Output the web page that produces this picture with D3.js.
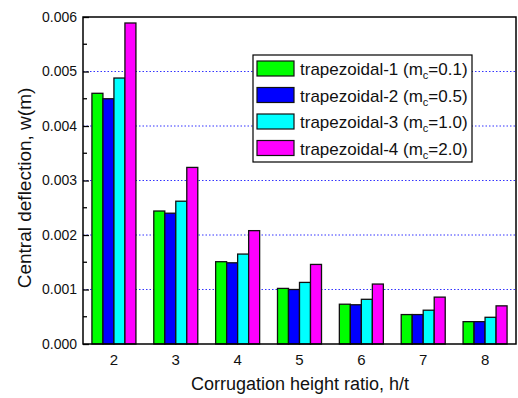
<!DOCTYPE html>
<html>
<head>
<meta charset="utf-8">
<script src="https://cdn.jsdelivr.net/npm/d3@7"></script>
<style>
  body { margin: 0; background: #fff; }
  svg { display: block; font-family: "Liberation Sans", Arial, sans-serif; }
</style>
</head>
<body>
<svg id="chart" width="518" height="398"></svg>
<script>
// h/t categories
var categories = ["2", "3", "4", "5", "6", "7", "8"];
var seriesNames = ["trapezoidal-1", "trapezoidal-2", "trapezoidal-3", "trapezoidal-4"];
var mcValues = ["0.1", "0.5", "1.0", "2.0"];
var seriesColors = ["#00ff00", "#0000ff", "#00ffff", "#ff00ff"];

// central deflection, m
var trap1 = [0.00460, 0.00244, 0.00151, 0.00102, 0.00073, 0.00054, 0.00041];
var trap2 = [0.00450, 0.00240, 0.00149, 0.00100, 0.00072, 0.00054, 0.00041];
var trap3 = [0.00488, 0.00262, 0.00165, 0.00113, 0.00082, 0.00062, 0.00049];
var trap4 = [0.00589, 0.00324, 0.00208, 0.00146, 0.00110, 0.00086, 0.00070];
var series = [trap1, trap2, trap3, trap4];

var yTicks = [0, 0.001, 0.002, 0.003, 0.004, 0.005, 0.006];
var gridTicks = [0.001, 0.002, 0.003, 0.004, 0.005];

var svg = d3.select("#chart");
var pLeft = 83, pRight = 516, pTop = 17, pBottom = 344;

var x = d3.scaleBand().domain(categories).range([pLeft, pRight]).padding(0);
var inner = d3.scaleBand().domain(d3.range(series.length))
    .range([-22, 22]);
var y = d3.scaleLinear().domain([0, 0.006]).range([pBottom, pTop]);

// dotted grid lines
svg.append("g").selectAll("line")
    .data(gridTicks)
    .join("line")
    .attr("x1", pLeft).attr("x2", pRight)
    .attr("y1", function (d) { return y(d); })
    .attr("y2", function (d) { return y(d); })
    .attr("stroke", "#3333ff")
    .attr("stroke-width", 1)
    .attr("stroke-dasharray", "1.5,2");

// bars
var rows = [];
categories.forEach(function (c, i) {
    series.forEach(function (s, k) {
        rows.push({cat: c, k: k, v: s[i]});
    });
});
svg.append("g").selectAll("rect")
    .data(rows)
    .join("rect")
    .attr("x", function (d) { return x(d.cat) + x.bandwidth() / 2 + inner(d.k); })
    .attr("y", function (d) { return y(d.v); })
    .attr("width", inner.bandwidth())
    .attr("height", function (d) { return pBottom - y(d.v); })
    .attr("fill", function (d) { return seriesColors[d.k]; })
    .attr("stroke", "#111")
    .attr("stroke-width", 1.3);

// frame
svg.append("rect")
    .attr("x", pLeft).attr("y", pTop)
    .attr("width", pRight - pLeft).attr("height", pBottom - pTop)
    .attr("fill", "none")
    .attr("stroke", "#000")
    .attr("stroke-width", 1.5);

// y axis (ticks inward)
var yAxis = d3.axisRight(y).tickValues(yTicks).tickSize(6).tickFormat("");
svg.append("g")
    .attr("transform", "translate(" + pLeft + ",0)")
    .call(yAxis)
    .call(function (g) { g.select(".domain").remove(); })
    .selectAll("line").attr("stroke-width", 1.3);

var minor = d3.range(0.0005, 0.006, 0.001);
svg.append("g").selectAll("line")
    .data(minor)
    .join("line")
    .attr("x1", pLeft).attr("x2", pLeft + 4)
    .attr("y1", function (d) { return y(d); })
    .attr("y2", function (d) { return y(d); })
    .attr("stroke", "#000")
    .attr("stroke-width", 1.3);

svg.append("g").selectAll("text")
    .data(yTicks)
    .join("text")
    .attr("x", 77)
    .attr("y", function (d) { return y(d); })
    .attr("dy", "0.35em")
    .attr("text-anchor", "end")
    .attr("font-size", 14)
    .attr("fill", "#111")
    .text(d3.format(".3f"));

// x tick labels
var xAxis = d3.axisBottom(x).tickSize(0).tickPadding(0);
svg.append("g")
    .attr("transform", "translate(0," + pBottom + ")")
    .call(xAxis)
    .call(function (g) {
        g.select(".domain").remove();
        g.attr("font-size", 15).attr("font-family", null);
        g.selectAll("text")
            .attr("y", 21)
            .attr("dy", 0)
            .attr("fill", "#111");
    });

// axis titles
svg.append("text")
    .attr("x", 300).attr("y", 390)
    .attr("text-anchor", "middle")
    .attr("font-size", 18)
    .attr("fill", "#111")
    .text("Corrugation height ratio, h/t");

svg.append("text")
    .attr("transform", "translate(31,188) rotate(-90)")
    .attr("text-anchor", "middle")
    .attr("font-size", 19)
    .attr("fill", "#111")
    .text("Central deflection, w(m)");

// legend
var lg = svg.append("g").attr("transform", "translate(253,55)");
lg.append("rect")
    .attr("width", 219).attr("height", 107)
    .attr("fill", "#fff")
    .attr("stroke", "#000")
    .attr("stroke-width", 1.2);

var item = lg.selectAll("g.item")
    .data(seriesNames)
    .join("g")
    .attr("class", "item")
    .attr("transform", function (d, i) { return "translate(4," + (6 + i * 26.5) + ")"; });

item.append("rect")
    .attr("width", 37).attr("height", 15)
    .attr("fill", function (d, i) { return seriesColors[i]; })
    .attr("stroke", "#111")
    .attr("stroke-width", 1.2);

var label = item.append("text")
    .attr("x", 43).attr("y", 14)
    .attr("font-size", 17)
    .attr("fill", "#111");
label.append("tspan").text(function (d) { return d + " (m"; });
label.append("tspan").attr("font-size", 11).attr("dy", 4).text("c");
label.append("tspan").attr("dy", -4).text(function (d, i) { return "=" + mcValues[i] + ")"; });
</script>
</body>
</html>
